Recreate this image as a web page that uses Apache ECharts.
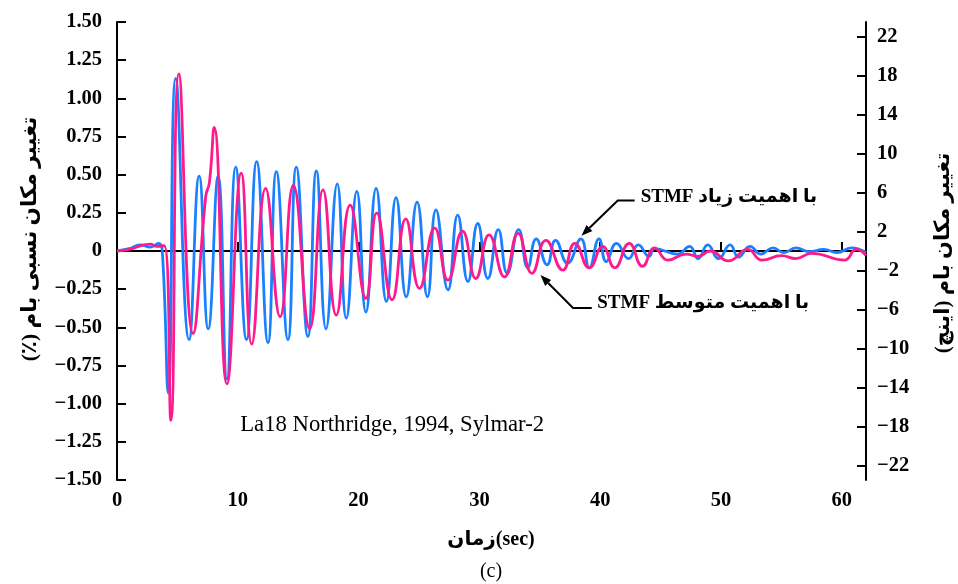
<!DOCTYPE html>
<html>
<head>
<meta charset="utf-8">
<script src="https://cdn.jsdelivr.net/npm/echarts@6/dist/echarts.min.js"></script>
<style>
  html, body { margin: 0; padding: 0; background: #fff; }
  #chart { width: 958px; height: 584px; }
</style>
</head>
<body>
<div id="chart"></div>
<script>
// Roof displacement histories (time in sec, relative roof displacement in %)
// STMF with high importance (blue)
const highImportance = [
  [0, 0], [1.0, 0.015], [1.93, 0.04], [2.76, 0.025], [3.44, 0.05], [3.75, 0.0],
  [4.24, -0.93], [4.86, 1.13], [5.97, -0.58], [6.8, 0.49], [7.55, -0.51], [8.37, 0.49],
  [9.1, -0.84], [9.83, 0.55], [10.72, -0.58], [11.56, 0.585], [12.5, -0.6], [13.19, 0.52],
  [14.15, -0.58], [14.84, 0.55], [15.8, -0.56], [16.5, 0.525], [17.3, -0.51], [18.23, 0.44],
  [18.98, -0.44], [19.85, 0.39], [20.6, -0.40], [21.45, 0.41], [22.3, -0.33], [23.1, 0.35],
  [23.94, -0.30], [24.84, 0.32], [25.7, -0.30], [26.4, 0.27], [27.4, -0.255], [28.2, 0.235],
  [29.05, -0.20], [29.86, 0.18], [30.7, -0.18], [31.56, 0.14], [32.3, -0.146], [33.25, 0.14],
  [34.0, -0.11], [34.7, 0.08], [35.6, -0.09], [36.3, 0.07], [37.3, -0.08], [38.4, 0.08],
  [39.1, -0.11], [39.9, 0.08], [40.5, -0.07], [41.35, 0.05], [42.35, -0.05], [43.15, 0.04],
  [44.05, -0.035], [44.5, 0.015], [46.4, -0.02], [47.4, 0.03], [48.1, -0.05], [48.9, 0.04],
  [49.8, -0.05], [50.75, 0.04], [51.45, -0.04], [52.4, 0.03], [53.3, -0.02], [54.3, 0.02],
  [55.2, -0.01], [56.2, 0.02], [57.3, -0.005], [58.5, 0.01], [59.6, -0.01], [60.8, 0.02],
  [62, -0.01]
];

// STMF with medium importance (pink)
const mediumImportance = [
  [0, 0], [1.0, 0.01], [2.75, 0.045], [3.3, 0.03], [3.9, 0.035], [4.46, -1.11],
  [5.12, 1.16], [6.3, -0.54], [7.35, 0.36], [7.65, 0.45], [8.04, 0.81], [9.1, -0.87],
  [10.28, 0.51], [11.15, -0.61], [12.3, 0.41], [13.5, -0.43], [14.6, 0.43], [15.95, -0.51],
  [17.05, 0.40], [18.15, -0.42], [19.3, 0.30], [20.6, -0.31], [21.5, 0.25], [22.77, -0.32],
  [23.9, 0.21], [25.04, -0.245], [26.3, 0.15], [27.4, -0.19], [28.6, 0.13], [29.7, -0.18],
  [30.8, 0.105], [32.07, -0.17], [33.2, 0.115], [34.35, -0.146], [35.5, 0.07], [36.9, -0.125],
  [37.9, 0.05], [39.1, -0.11], [40.2, 0.03], [41.2, -0.11], [42.4, 0.05], [43.5, -0.10],
  [44.5, 0.02], [45.6, -0.06], [47.1, -0.02], [48.1, -0.035], [49.1, 0.0], [50.6, -0.065],
  [52.2, 0.01], [53.4, -0.06], [55.0, -0.03], [56.2, -0.05], [57.5, -0.015], [60.2, -0.06],
  [61.2, 0.01], [62, -0.03]
];

// Axis settings
const timeRange = [0, 62];
const timeTickStep = 10;
const driftRange = [-1.5, 1.5];
const driftTickStep = 0.25;
const inchRange = [-23.5, 23.5];
const inchTicks = [-22, -18, -14, -10, -6, -2, 2, 6, 10, 14, 18, 22];

const serif = "'Liberation Serif', 'Times New Roman', 'DejaVu Sans', serif";
const BLUE = '#1a80ff';
const PINK = '#ff1a8c';
const minus = s => String(s).replace('-', '\u2212');

const chart = echarts.init(document.getElementById('chart'), null, { renderer: 'canvas' });

const tickLabel = { color: '#000', fontFamily: serif, fontSize: 20.5, fontWeight: 'bold' };
const axisLine = { show: true, lineStyle: { color: '#000', width: 2 } };

chart.setOption({
  backgroundColor: '#fff',
  animation: false,
  grid: { left: 117, right: 92, top: 22, bottom: 104 },
  xAxis: {
    type: 'value', min: timeRange[0], max: timeRange[1], interval: timeTickStep,
    axisLine: axisLine,
    axisTick: { show: true, inside: true, length: 9, lineStyle: { color: '#000', width: 2 } },
    axisLabel: Object.assign({ margin: 10, showMaxLabel: false }, tickLabel),
    splitLine: { show: false }
  },
  yAxis: [
    {
      type: 'value', position: 'left', min: driftRange[0], max: driftRange[1], interval: driftTickStep,
      axisLine: axisLine,
      axisTick: { show: true, inside: true, length: 9, lineStyle: { color: '#000', width: 2 } },
      axisLabel: Object.assign({
        margin: 15,
        formatter: v => (Math.abs(v) < 1e-9 ? '0' : minus(v.toFixed(2)))
      }, tickLabel),
      splitLine: { show: false }
    },
    {
      type: 'value', position: 'right', min: inchRange[0], max: inchRange[1],
      axisLine: axisLine,
      axisTick: { show: true, inside: true, length: 9, customValues: inchTicks,
        lineStyle: { color: '#000', width: 2 } },
      axisLabel: Object.assign({
        margin: 11, customValues: inchTicks,
        formatter: v => minus(v)
      }, tickLabel),
      splitLine: { show: false }
    }
  ],
  series: [
    {
      name: 'zero', type: 'line', data: [[timeRange[0], 0], [timeRange[1], 0]],
      symbol: 'none', silent: true, z: 1,
      lineStyle: { color: '#000', width: 2 }
    },
    {
      name: 'STMF با اهمیت زیاد', type: 'line', data: highImportance,
      symbol: 'none', smooth: 0.5, z: 3,
      lineStyle: { color: BLUE, width: 2.8 }
    },
    {
      name: 'STMF با اهمیت متوسط', type: 'line', data: mediumImportance,
      symbol: 'none', smooth: 0.5, z: 4,
      lineStyle: { color: PINK, width: 2.8 }
    }
  ]
});

// Annotation anchors in data units: start of the leader, elbow, arrow tip, text anchor
const highNote = { text: 'STMF با اهمیت زیاد', start: [42.85, 0.33], elbow: [41.45, 0.33], tip: [38.45, 0.1], label: [43.35, 0.353] };
const midNote = { text: 'STMF با اهمیت متوسط', start: [39.3, -0.373], elbow: [37.75, -0.373], tip: [35.05, -0.158], label: [39.75, -0.339] };
const recordText = { text: 'La18 Northridge, 1994, Sylmar-2', at: [10.2, -1.14] };

const px = p => chart.convertToPixel({ xAxisIndex: 0, yAxisIndex: 0 }, p);

function leader(note) {
  const a = px(note.start), b = px(note.elbow), c = px(note.tip);
  const dx = c[0] - b[0], dy = c[1] - b[1];
  const len = Math.hypot(dx, dy), ux = dx / len, uy = dy / len;
  const headLen = 11, headW = 4.2;
  const base = [c[0] - ux * headLen, c[1] - uy * headLen];
  return [
    { type: 'polyline', shape: { points: [a, b, base] }, style: { stroke: '#000', lineWidth: 2, fill: null }, z: 10 },
    { type: 'polygon', shape: { points: [c, [base[0] - uy * headW, base[1] + ux * headW], [base[0] + uy * headW, base[1] - ux * headW]] }, style: { fill: '#000' }, z: 10 },
    { type: 'text', x: px(note.label)[0], y: px(note.label)[1], style: { text: note.text, fill: '#000', font: "bold 19px " + serif, textAlign: 'left', textVerticalAlign: 'middle' }, z: 10 }
  ];
}

const rp = px(recordText.at);
chart.setOption({
  graphic: [].concat(
    leader(highNote),
    leader(midNote),
    [
      { type: 'text', x: rp[0], y: rp[1], style: { text: recordText.text, fill: '#000', font: "22.7px " + serif, textAlign: 'left', textVerticalAlign: 'middle' }, z: 10 },
      { type: 'text', x: 30, y: 239, rotation: Math.PI / 2,
        style: { text: 'تغییر مکان نسبی بام (٪)\u200F', fill: '#000', font: "bold 21.5px " + serif, textAlign: 'center', textVerticalAlign: 'middle' } },
      { type: 'text', x: 944, y: 253, rotation: Math.PI / 2,
        style: { text: 'تغییر مکان بام (اینچ)\u200F', fill: '#000', font: "bold 21px " + serif, textAlign: 'center', textVerticalAlign: 'middle' } },
      { type: 'text', x: 491, y: 540,
        style: { text: 'زمان(sec)', fill: '#000', font: "bold 20px " + serif, textAlign: 'center', textVerticalAlign: 'middle' } },
      { type: 'text', x: 491, y: 572,
        style: { text: '(c)', fill: '#000', font: "20px " + serif, textAlign: 'center', textVerticalAlign: 'middle' } }
    ]
  )
});
</script>
</body>
</html>
